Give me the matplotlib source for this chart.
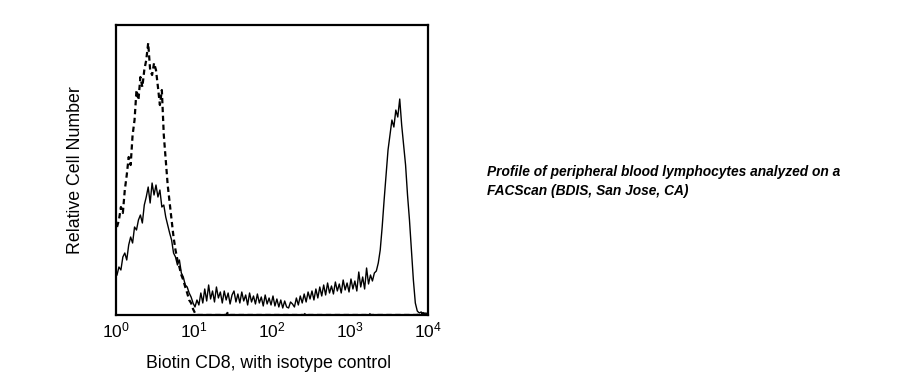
import numpy as np
import matplotlib
matplotlib.use("Agg")
import matplotlib.pyplot as plt

plt.rcParams['font.family'] = ['Liberation Sans', 'DejaVu Sans']
plt.rcParams['mathtext.fontset'] = 'custom'
plt.rcParams['mathtext.rm'] = 'Liberation Sans'
plt.rcParams['mathtext.it'] = 'Liberation Sans:italic'

# histogram channels: 160 bins over 4 decades (log10 from 0 to 4)
log_edges_start = 0.0
log_edges_stop = 4.0
n_bins = 160

# CD8 stained sample (solid)
cd8_counts = [
    40, 48, 45, 58, 62, 55, 70, 78, 72, 88, 85, 95, 100, 92, 110, 118, 128, 112, 132, 120,
    130, 118, 125, 108, 110, 98, 90, 82, 75, 62, 58, 50, 55, 42, 38, 30, 28, 22, 18, 12,
    8, 15, 10, 22, 12, 26, 14, 30, 16, 24, 13, 28, 17, 23, 12, 24, 15, 22, 11, 20,
    24, 13, 21, 12, 23, 14, 20, 10, 22, 13, 19, 11, 21, 12, 18, 9, 20, 11, 17, 10,
    19, 9, 16, 8, 15, 7, 14, 8, 7, 13, 11, 8, 17, 10, 19, 12, 21, 13, 23, 16,
    24, 15, 26, 17, 28, 19, 30, 20, 32, 22, 29, 21, 33, 24, 31, 22, 35, 25, 32, 23,
    36, 26, 34, 24, 43, 28, 38, 26, 47, 31, 40, 34, 42, 44, 52, 65, 88, 115, 140, 165,
    180, 195, 188, 205, 198, 216, 190, 170, 150, 120, 95, 65, 35, 12, 4, 2, 3, 1, 2, 1,
]

# isotype control (dashed)
isotype_counts = [
    88, 95, 108, 102, 125, 140, 158, 150, 180, 195, 225, 215, 238, 228, 245, 255, 272, 245, 240, 252,
    245, 228, 210, 225, 180, 155, 130, 112, 95, 78, 65, 55, 48, 40, 35, 28, 22, 15, 12, 6,
    2, 0, 0, 0, 0, 0, 0, 0, 0, 0, 0, 0, 0, 0, 0, 0, 0, 3, 0, 0,
    0, 0, 0, 0, 0, 0, 0, 0, 0, 0, 0, 0, 0, 0, 0, 0, 0, 0, 0, 0,
    0, 0, 0, 0, 0, 0, 0, 0, 0, 0, 0, 0, 0, 0, 0, 0, 0, 2, 0, 0,
    0, 0, 0, 0, 0, 0, 0, 0, 0, 0, 0, 0, 0, 0, 0, 0, 0, 0, 0, 0,
    0, 0, 0, 0, 0, 0, 0, 0, 0, 2, 0, 0, 0, 0, 0, 0, 0, 0, 0, 0,
    0, 0, 0, 0, 0, 0, 0, 0, 0, 0, 0, 0, 0, 0, 0, 2, 0, 2, 0, 2,
]

caption = "Profile of peripheral blood lymphocytes analyzed on a\nFACScan (BDIS, San Jose, CA)"

edges = np.logspace(log_edges_start, log_edges_stop, n_bins + 1)
centers = np.sqrt(edges[:-1] * edges[1:])

fig = plt.figure(figsize=(9.23, 3.79), dpi=100)
ax = fig.add_axes([0.1257, 0.1689, 0.338, 0.765])

ax.plot(centers, isotype_counts, color='black', lw=1.6, ls=(0, (2.4, 1.6)))
ax.plot(centers, cd8_counts, color='black', lw=1.0)

ax.set_xscale('log')
ax.set_xlim(1, 1e4)
ax.set_ylim(0, 290)
ax.set_xticks([1, 10, 100, 1000, 10000])
ax.xaxis.set_minor_locator(matplotlib.ticker.NullLocator())
ax.set_yticks([])
ax.tick_params(axis='x', length=0, pad=4, labelsize=12.5)
for s in ax.spines.values():
    s.set_linewidth(1.6)

ax.set_xlabel('Biotin CD8, with isotype control', fontsize=12.8)
ax.xaxis.set_label_coords(0.49, -0.138)
ax.set_ylabel('Relative Cell Number', fontsize=12.8)
ax.yaxis.set_label_coords(-0.102, 0.5)

fig.text(0.5276, 0.5646, caption, fontsize=9.9, fontweight='bold', fontstyle='italic',
         va='top', ha='left', linespacing=1.45)

fig.savefig('out.png', dpi=100)
